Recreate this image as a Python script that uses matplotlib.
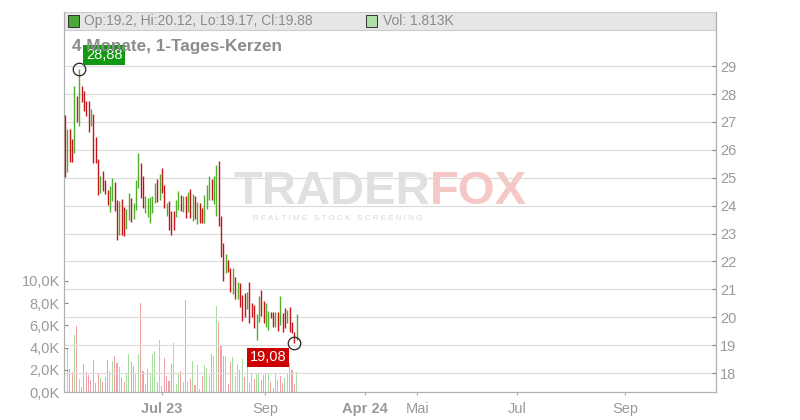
import matplotlib
matplotlib.use('Agg')
import matplotlib.pyplot as plt
from matplotlib.patches import Rectangle
from matplotlib.ticker import FuncFormatter

plt.rcParams['font.family'] = ['Liberation Sans', 'DejaVu Sans']

# candle highs / lows (price), oldest first
highs = [27.24, 26.74, 26.74, 26.38, 28.28, 27.92, 28.88, 28.28, 28.10, 27.75,
         27.75, 27.46, 27.28, 26.46, 25.67, 25.06, 25.24, 24.91, 24.56, 24.70,
         24.99, 24.84, 24.20, 24.16, 24.23, 23.95, 23.87, 24.45, 24.27, 24.09,
         24.91, 25.88, 25.52, 25.06, 24.34, 24.27, 24.30, 24.34, 24.81, 24.95,
         25.13, 25.34, 24.73, 24.09, 24.16, 23.80, 23.80, 24.20, 24.52, 24.38,
         24.34, 24.34, 24.48, 24.59, 24.41, 24.34, 24.13, 24.09, 23.91, 24.38,
         24.73, 25.06, 24.95, 25.06, 25.45, 25.59, 23.62, 22.66, 22.26, 22.05,
         21.76, 21.76, 21.44, 21.26, 21.22, 20.79, 20.86, 20.90, 21.26, 20.51,
         20.43, 20.11, 20.76, 20.97, 20.58, 20.51, 20.22, 20.18, 20.18, 20.18,
         20.18, 20.76, 20.15, 20.33, 20.25, 20.36, 19.82, 19.47, 20.12]
lows = [25.02, 25.20, 25.56, 25.56, 25.88, 26.99, 26.85, 27.71, 27.39, 27.21,
        26.63, 26.85, 25.52, 25.52, 24.38, 24.45, 24.52, 24.41, 24.02, 23.77,
        24.16, 23.80, 22.76, 22.94, 22.94, 22.91, 23.16, 23.48, 23.41, 23.52,
        23.84, 24.63, 24.27, 23.91, 23.73, 23.59, 23.37, 23.73, 24.09, 24.13,
        24.20, 24.45, 23.91, 23.62, 23.12, 22.94, 23.12, 23.59, 23.84, 23.80,
        23.77, 23.55, 23.77, 23.55, 23.44, 23.52, 23.34, 23.37, 23.37, 23.37,
        23.87, 24.20, 24.20, 24.05, 23.62, 23.27, 22.15, 21.29, 21.58, 21.62,
        20.90, 20.83, 20.65, 20.65, 20.36, 19.86, 20.00, 20.29, 19.79, 20.00,
        19.61, 19.18, 19.82, 20.04, 19.79, 19.64, 19.54, 19.97, 19.64, 19.64,
        19.50, 19.72, 19.47, 19.61, 19.79, 19.47, 19.43, 19.08, 19.17]
candle_dir = ("d u d d u d u d d d  d u d d d u d d d u  u d d u d d u u d u  "
              "u u d d u u u u u d  u d d u d d d u u d  u d u d u d u d d u  "
              "u u d u u d d d u d  d u d u d d d u d d  d u u d d u u d d u  "
              "d u d d u d d d u").split()

# daily volume in thousands
volumes = [2.43, 4.00, 2.07, 1.80, 5.13, 5.95, 1.17, 0.45, 2.50, 1.80,
           1.53, 1.08, 2.88, 0.80, 1.71, 1.35, 0.90, 1.35, 2.88, 1.89,
           2.79, 3.24, 2.61, 2.25, 1.35, 0.90, 1.71, 3.42, 2.70, 2.34,
           1.71, 3.42, 8.05, 1.89, 0.72, 2.07, 1.68, 3.42, 3.69, 0.90,
           4.68, 0.50, 3.03, 1.44, 0.99, 2.52, 4.41, 0.72, 1.71, 1.89,
           0.90, 8.29, 0.90, 1.17, 2.79, 0.63, 2.43, 0.27, 1.44, 2.43,
           2.16, 1.53, 3.42, 3.24, 7.75, 6.33, 4.23, 3.24, 3.24, 0.72,
           2.73, 3.12, 1.44, 2.52, 1.98, 2.97, 1.35, 2.61, 0.81, 1.74,
           1.20, 1.74, 1.74, 1.10, 1.50, 1.74, 1.74, 0.90, 0.36, 1.74,
           1.10, 1.40, 0.80, 1.30, 1.60, 2.61, 2.00, 0.70, 1.813]
vol_dir = ("d u d d u d u d d d  d d d d d u d d d u  u d d u d d u u d n  "
           "u u d d u d u u u d  u d d d d d u u u d  u d u d u d u d d u  "
           "u u d u u d d d u d  d u u u d u d u d u  d u u d d u u d d u  "
           "u d d u u d d d u").split()

last_open = 19.2
last_close = 19.88

month_ticks = [40.9, 84.8, 127, 149, 191.3, 236.9]
month_labels = ['Jul 23', 'Sep', 'Apr 24', 'Mai', 'Jul', 'Sep']
bold_labels = ['Jul 23', 'Apr 24']
price_ticks = list(range(18, 30))
vol_ticks = [0, 2, 4, 6, 8, 10]

RED = '#c4151c'
GREEN = '#4fae2c'
VRED = '#f2a0a8'
VGREEN = '#a6dc9c'
VGRAY = '#b8b8b8'
TXT = '#9a9a9a'

W, H = 800, 420
fig = plt.figure(figsize=(8, 4.2), dpi=100)
L, R, B, T = 64, 716, 392, 12
ax = fig.add_axes([L / W, 1 - B / H, (R - L) / W, (B - T) / H])
axp = ax.twinx()

x = list(range(len(highs)))

# volume
vcol = {'d': VRED, 'u': VGREEN, 'n': VGRAY}
ax.bar(x, volumes, width=0.45, color=[vcol[c] for c in vol_dir], linewidth=0)
ax.set_ylim(0, 34.23)
ax.set_yticks(vol_ticks)
ax.yaxis.set_major_formatter(FuncFormatter(lambda v, p: f"{v:.1f}K".replace('.', ',')))
ax.yaxis.tick_left()
ax.tick_params(axis='y', direction='in', length=3, color='#888', labelcolor=TXT,
               labelsize=10.5, pad=3)

# header band
ax.add_patch(Rectangle((0, (B - 30) / (B - T)), 1, (30 - T) / (B - T),
                       transform=ax.transAxes, facecolor='#e6e6e6',
                       edgecolor='#cccccc', linewidth=0.8, zorder=0))

# candles
ccol = {'d': RED, 'u': GREEN}
axp.vlines(x, lows, highs, colors=[ccol[c] for c in candle_dir], linewidth=1.0, zorder=3)
axp.set_ylim(17.32, 30.94)
axp.set_yticks(price_ticks)
axp.tick_params(axis='y', direction='in', length=3, color='#888', labelcolor=TXT,
                labelsize=10.5, pad=3)
axp.grid(True, color='#dddddd', linewidth=0.9)
axp.set_axisbelow(True)

for a in (ax, axp):
    a.set_xlim(-0.4, 275.3)
    a.spines['top'].set_visible(False)
    for s in ('left', 'right', 'bottom'):
        a.spines[s].set_color('#b0b0b0')

ax.set_xticks(month_ticks)
ax.set_xticklabels(month_labels)
ax.tick_params(axis='x', direction='out', length=2, color='#aaa', labelcolor=TXT,
               labelsize=10.5, pad=5)
for lbl in ax.get_xticklabels():
    if lbl.get_text() in bold_labels:
        lbl.set_fontweight('bold')
axp.set_xticks(month_ticks)
axp.xaxis.grid(True, color='#dddddd', linewidth=0.9)

# max / min markers
imax = highs.index(max(highs))
imin = lows.index(min(lows))
axp.plot([imax], [highs[imax]], 'o', ms=9, mfc='none', mec='#222', mew=0.9, zorder=5)
axp.plot([imin], [lows[imin]], 'o', ms=9, mfc='none', mec='#222', mew=0.9, zorder=5)
axp.annotate(f"{highs[imax]:.2f}".replace('.', ','), (imax, highs[imax]),
             xytext=(18, 10.5), textcoords='offset points', ha='center', va='center',
             color='white', fontsize=10.5, zorder=6,
             bbox=dict(boxstyle='square,pad=0.2', fc='#119a11', ec='none'))
axp.annotate(f"{lows[imin]:.2f}".replace('.', ','), (imin, lows[imin]),
             xytext=(-19, -10.5), textcoords='offset points', ha='center', va='center',
             color='white', fontsize=10.5, zorder=6,
             bbox=dict(boxstyle='square,pad=0.2', fc='#cc0000', ec='none'))

# watermark
fig.text(430 / W, 1 - 192 / H, 'TRADER', ha='right', va='center', fontsize=34,
         fontweight='bold', color='#e0e0e0', zorder=0.5)
fig.text(430 / W, 1 - 192 / H, 'FOX', ha='left', va='center', fontsize=34,
         fontweight='bold', color='#f5c8c8', zorder=0.5)
fig.text(338 / W, 1 - 218 / H, 'R E A L T I M E   S T O C K   S C R E E N I N G',
         ha='center', va='center', fontsize=5.8, color='#d6d6d6')

# header legend
fig.patches.append(Rectangle((68 / W, 1 - 27 / H), 11 / W, 12 / H, transform=fig.transFigure,
                             facecolor='#4aa83a', edgecolor='#333', linewidth=0.7))
fig.text(84 / W, 1 - 21 / H,
         f"Op:{last_open}, Hi:{highs[-1]}, Lo:{lows[-1]}, Cl:{last_close}",
         ha='left', va='center', fontsize=10, color='#8a8a8a')
fig.patches.append(Rectangle((366 / W, 1 - 27 / H), 11 / W, 12 / H, transform=fig.transFigure,
                             facecolor='#ade0a8', edgecolor='#333', linewidth=0.7))
fig.text(383 / W, 1 - 21 / H, f"Vol: {volumes[-1]}K", ha='left', va='center',
         fontsize=10, color='#8a8a8a')

# title
fig.text(72 / W, 1 - 47 / H, '4 Monate, 1-Tages-Kerzen', ha='left', va='center',
         fontsize=12.3, fontweight='bold', color='#8c8c8c')

fig.savefig('out.png', dpi=100, facecolor='white')
